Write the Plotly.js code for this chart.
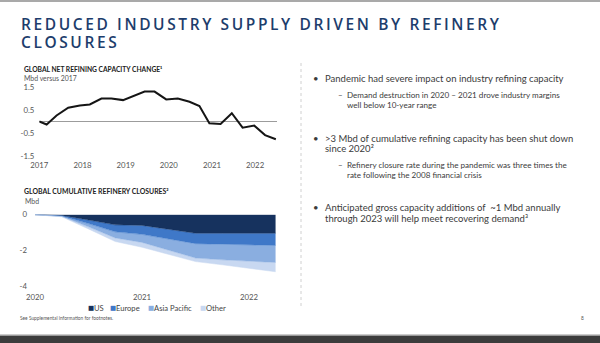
<!DOCTYPE html>
<html>
<head>
<meta charset="utf-8">
<script src="https://cdn.plot.ly/plotly-3.0.1.min.js"></script>
<style>
html,body{margin:0;padding:0;background:#fff;}
#chart{width:600px;height:343px;}
</style>
</head>
<body>
<div id="chart"></div>
<script>
// ---- Data: top chart (Global net refining capacity change, Mbd vs 2017)
const capYears = [2017.0, 2017.17, 2017.4, 2017.67, 2017.94, 2018.17, 2018.44, 2018.67, 2018.94, 2019.21, 2019.44, 2019.67, 2019.94, 2020.21, 2020.48, 2020.71, 2020.94, 2021.2, 2021.46, 2021.71, 2021.98, 2022.23, 2022.48];
const capChange = [0, -0.13, 0.26, 0.6, 0.7, 0.74, 1.0, 1.0, 0.93, 1.13, 1.3, 1.3, 0.96, 1.0, 0.86, 0.67, -0.08, -0.11, 0.36, -0.27, -0.18, -0.59, -0.77];
const capTickVals = [2017, 2018, 2019, 2020, 2021, 2022];
const capTickText = ['2017', '2018', '2019', '2020', '2021', '2022'];
const capYTickVals = [-1.5, -0.5, 0.5, 1.5];
const capYTickText = ['-1.5', '-0.5', '0.5', '1.5'];

// ---- Data: bottom chart (Global cumulative refinery closures, Mbd)
const closureDates = [2020.0, 2020.25, 2020.5, 2020.75, 2021.0, 2021.25, 2021.5, 2021.75, 2022.0, 2022.25];
const closuresUS = [0, -0.05, -0.3, -0.57, -0.6, -0.82, -1.04, -1.04, -1.04, -1.04];
const closuresEurope = [0, -0.03, -0.2, -0.39, -0.5, -0.55, -0.58, -0.61, -0.64, -0.68];
const closuresAsia = [0, -0.02, -0.18, -0.34, -0.45, -0.6, -0.8, -0.87, -0.92, -0.95];
const closuresOther = [0, -0.02, -0.12, -0.2, -0.27, -0.25, -0.2, -0.28, -0.4, -0.52];
const regionNames = ['US', 'Europe', 'Asia Pacific', 'Other'];
const closureTickVals = [2020, 2021, 2022];
const closureTickText = ['2020', '2021', '2022'];
const closureYTickVals = [0, -2, -4];
const closureYTickText = ['0', '-2', '-4'];

// ---- Styles
const W = 600, H = 343;
const px = v => v / W;
const py = v => 1 - v / H;
const regionColors = ['#16325e', '#3f78c8', '#8aaee0', '#c8d8f1'];
const legendPos = [86, 108, 146, 198];
const FONT = 'Lato, "Open Sans", sans-serif';
const TEXT = '#3b3b3b';

const regionValues = [closuresUS, closuresEurope, closuresAsia, closuresOther];
const areaTraces = regionValues.map((vals, i) => ({
  type: 'scatter', mode: 'lines', x: closureDates, y: vals,
  name: regionNames[i], stackgroup: 'closures',
  line: {color: regionColors[i], width: 0.5, shape: 'linear'},
  fillcolor: regionColors[i],
  xaxis: 'x2', yaxis: 'y2', showlegend: false, hoverinfo: 'skip'
}));

const lineTrace = {
  type: 'scatter', mode: 'lines', x: capYears, y: capChange,
  line: {color: '#151515', width: 2}, xaxis: 'x', yaxis: 'y',
  showlegend: false, hoverinfo: 'skip'
};

const tickFont = {family: FONT, size: 7.8, color: '#555'};

function ann(text, x, y, size, opts) {
  return Object.assign({
    text: text, xref: 'paper', yref: 'paper', x: px(x), y: py(y),
    xanchor: 'left', yanchor: 'middle', showarrow: false,
    font: {family: FONT, size: size, color: TEXT}
  }, opts || {});
}

const titleFont = {family: '"Open Sans", sans-serif', size: 15.5, color: '#1d3d6c', weight: 600};

const legendAnns = [];
regionNames.forEach((n, i) => {
  legendAnns.push(ann('■', legendPos[i], 308, 6.5, {font: {family: 'DejaVu Sans', size: 6.5, color: regionColors[i]}}));
  legendAnns.push(ann(n, legendPos[i] + 5.5, 308, 7.6, {font: {family: FONT, size: 7.6, color: '#444'}}));
});

const annotations = [
  ann('REDUCED INDUSTRY SUPPLY DRIVEN BY REFINERY<br>CLOSURES', 19, 34.3, 15.5, {font: titleFont, align: 'left'}),
  ann('GLOBAL NET REFINING CAPACITY CHANGE¹', 22, 69.5, 6.7,
      {font: {family: FONT, size: 6.7, color: '#222', weight: 700}}),
  ann('Mbd versus 2017', 22, 78.5, 6.9, {font: {family: FONT, size: 6.9, color: '#555'}}),
  ann('GLOBAL CUMULATIVE REFINERY CLOSURES²', 22, 191, 6.9,
      {font: {family: FONT, size: 6.9, color: '#222', weight: 700}}),
  ann('Mbd', 23, 201, 6.9, {font: {family: FONT, size: 6.9, color: '#555'}}),
  ann('See Supplemental information for footnotes.', 18, 317.5, 4.8, {font: {family: FONT, size: 4.8, color: '#555'}}),
  ann('8', 579, 317.5, 4.8, {font: {family: FONT, size: 4.8, color: '#555'}}),

  ann('•', 311, 78.3, 9.5),
  ann('Pandemic had severe impact on industry refining capacity', 322.5, 78.3, 9.5),
  ann('–', 335.5, 95, 8),
  ann('Demand destruction in 2020 – 2021 drove industry margins', 345, 95, 8.1),
  ann('well below 10-year range', 345, 105, 8.1),

  ann('•', 311, 138.3, 9.5),
  ann('>3 Mbd of cumulative refining capacity has been shut down', 322.5, 138.3, 9.5),
  ann('since 2020²', 322.5, 148.8, 9.5),
  ann('–', 335.5, 165, 8),
  ann('Refinery closure rate during the pandemic was three times the', 345, 165, 8.1),
  ann('rate following the 2008 financial crisis', 345, 175, 8.1),

  ann('•', 311, 207.3, 9.5),
  ann('Anticipated gross capacity additions of  ~1 Mbd annually', 322.5, 207.3, 9.5),
  ann('through 2023 will help meet recovering demand³', 322.5, 218.5, 9.5)
].concat(legendAnns);

const shapes = [
  {type: 'rect', xref: 'paper', yref: 'paper', x0: 0, x1: 1, y0: py(2), y1: 1,
   fillcolor: '#a9a9a9', line: {width: 0}},
  {type: 'rect', xref: 'paper', yref: 'paper', x0: 0, x1: 1, y0: 0, y1: py(336),
   fillcolor: '#3c3c3c', line: {width: 0}},
  {type: 'rect', xref: 'paper', yref: 'paper', x0: 0, x1: 1, y0: py(336), y1: py(334.5),
   fillcolor: '#9a9a9a', line: {width: 0}},
  {type: 'line', xref: 'paper', yref: 'paper', x0: px(301), x1: px(301), y0: py(63), y1: py(306),
   line: {color: '#d0d0d0', width: 1, dash: 'dot'}}
];

const layout = {
  width: W, height: H,
  margin: {l: 0, r: 0, t: 0, b: 0},
  paper_bgcolor: '#ffffff', plot_bgcolor: 'rgba(0,0,0,0)',
  showlegend: false,
  font: {family: FONT, color: TEXT},
  xaxis: {
    domain: [px(39.3), px(276.7)], range: [2017, 2022.5], anchor: 'y',
    tickvals: capTickVals, ticktext: capTickText, tickfont: tickFont,
    showgrid: false, zeroline: false, showline: false, ticks: '', ticklabelstandoff: 3
  },
  yaxis: {
    domain: [py(156), py(87)], range: [-1.5, 1.5], anchor: 'x',
    tickvals: capYTickVals, ticktext: capYTickText, tickfont: tickFont,
    showgrid: false, zeroline: true, zerolinecolor: '#9c9c9c', zerolinewidth: 1,
    showline: false, ticks: '', ticklabelstandoff: 4
  },
  xaxis2: {
    domain: [px(35), px(275.75)], range: [2020, 2022.25], anchor: 'y2',
    tickvals: closureTickVals, ticktext: closureTickText, tickfont: tickFont,
    showgrid: false, zeroline: false, showline: false, ticks: '', ticklabelstandoff: 5
  },
  yaxis2: {
    domain: [py(286.3), py(214.3)], range: [-4, 0.02], anchor: 'x2',
    tickvals: closureYTickVals, ticktext: closureYTickText, tickfont: tickFont,
    showgrid: false, zeroline: false, showline: false, ticks: '', ticklabelstandoff: 7
  },
  annotations: annotations,
  shapes: shapes
};

Plotly.newPlot('chart', [lineTrace].concat(areaTraces), layout, {staticPlot: true, displayModeBar: false})
  .then(() => {
    document.querySelectorAll('.annotation-text').forEach(t => {
      if (t.textContent.indexOf('REDUCED') === 0) {
        const bb = t.getBBox();
        const lines = t.querySelectorAll('tspan.line');
        t.setAttribute('text-anchor', 'start');
        lines.forEach(l => l.setAttribute('x', bb.x));
        if (lines.length > 1) lines[1].setAttribute('dy', '17.9');
        t.style.letterSpacing = '2.6px';
      }
    });
  });
</script>
</body>
</html>
